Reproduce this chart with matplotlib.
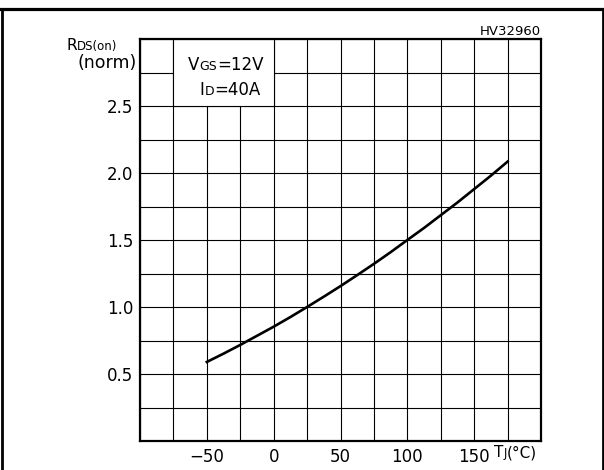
import numpy as np
import matplotlib
matplotlib.use("Agg")
import matplotlib.pyplot as plt
from matplotlib.lines import Line2D
from matplotlib.patches import Rectangle

# curve
temps = [-50, -37.5, -25, -12.5, 0, 12.5, 25, 37.5, 50, 62.5, 75,
         87.5, 100, 112.5, 125, 137.5, 150, 162.5, 175]
rds_norm = [0.59, 0.652, 0.717, 0.785, 0.853, 0.925, 1.0, 1.077, 1.156,
            1.238, 1.322, 1.409, 1.50, 1.59, 1.685, 1.78, 1.88, 1.98, 2.085]

x_labels = [-50, 0, 50, 100, 150]
y_labels = [0.5, 1.0, 1.5, 2.0, 2.5]
x_grid = np.arange(-100, 201, 25)
y_grid = np.arange(0, 3.01, 0.25)

W, H = 604, 470
plt.rcParams['font.family'] = ['DejaVu Sans']

fig = plt.figure(figsize=(W / 100, H / 100), dpi=100)
ax = fig.add_axes([140 / W, 1 - 441 / H, 401 / W, 402 / H])
ax.set_xlim(-100, 200)
ax.set_ylim(0, 3)

ax.set_xticks(x_labels)
ax.set_xticklabels([str(v).replace('-', '\u2212') for v in x_labels])
ax.set_yticks(y_labels)
ax.set_yticklabels(['%.1f' % v for v in y_labels])
ax.set_xticks(x_grid, minor=True)
ax.set_yticks(y_grid, minor=True)
ax.tick_params(which='both', length=0, labelsize=12)
ax.tick_params(axis='x', pad=5)
ax.tick_params(axis='y', pad=5)
ax.grid(True, which='both', color='black', lw=0.8)
for sp in ax.spines.values():
    sp.set_linewidth(1.6)

# white box hiding the grid behind the test conditions
ax.add_patch(Rectangle((-75, 2.5), 75, 0.5, facecolor='white',
                       edgecolor='black', lw=0.8, zorder=2))

ax.plot(temps, rds_norm, color='black', lw=1.9, zorder=3)

renderer = fig.canvas.get_renderer()


def put(x, y, parts, ha='left'):
    # text pieces on one baseline, x/y in pixels from top left
    texts = []
    for s, size in parts:
        t = fig.text(x / W, 1 - y / H, s, fontsize=size, ha='left', va='baseline')
        x += t.get_window_extent(renderer).width
        texts.append(t)
    total = sum(t.get_window_extent(renderer).width for t in texts)
    if ha != 'left':
        shift = total / 2 if ha == 'center' else total
        for t in texts:
            px, py = t.get_position()
            t.set_x(px - shift / W)


put(66, 50, [('R', 11), ('DS(on)', 8.5)])
put(137, 68, [('(norm)', 12.5)], ha='right')
put(226, 70, [('V', 12), ('GS', 9), ('=12V', 12)], ha='center')
put(230, 95, [('I', 12), ('D', 9), ('=40A', 12)], ha='center')
put(494, 457, [('T', 11), ('J', 8.5), ('(°C)', 11)])
put(541, 35, [('HV32960', 9.5)], ha='right')

# page frame
yt = 1 - 8.5 / H
fig.add_artist(Line2D([0, 1], [yt, yt], lw=2.3, color='black', transform=fig.transFigure))
fig.add_artist(Line2D([1.5 / W, 1.5 / W], [0, yt], lw=2.0, color='black', transform=fig.transFigure))
fig.add_artist(Line2D([1 - 1.5 / W, 1 - 1.5 / W], [0, yt], lw=2.0, color='black', transform=fig.transFigure))

fig.savefig('out.png', dpi=100)
